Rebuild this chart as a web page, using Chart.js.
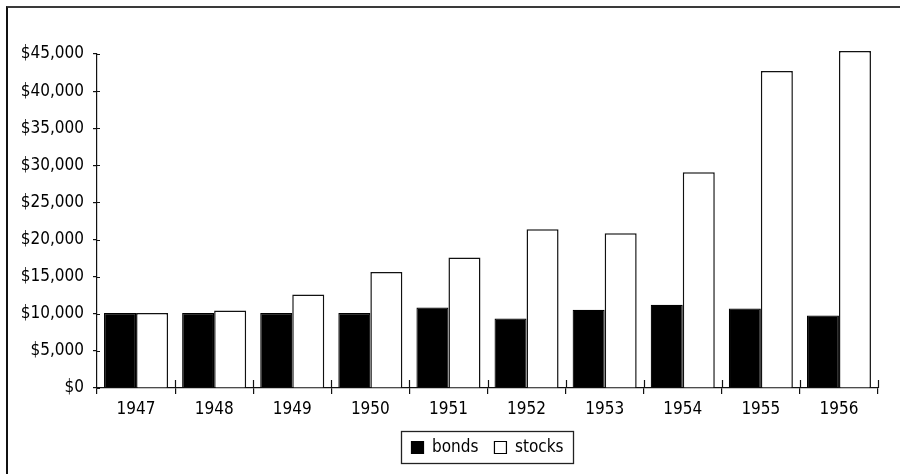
<!DOCTYPE html>
<html>
<head>
<meta charset="utf-8">
<script src="https://cdn.jsdelivr.net/npm/chart.js@4/dist/chart.umd.min.js"></script>
<style>
  html, body { margin: 0; padding: 0; background: #fff; }
  #wrap { position: relative; width: 900px; height: 474px; overflow: hidden; }
  #frame { position: absolute; left: 6px; top: 6px; width: 900px; height: 480px;
           border-left: 2px solid #111; border-top: 2px solid #3a3a3a; box-sizing: border-box; }
  canvas { position: absolute; left: 0; top: 0; }
</style>
</head>
<body>
<div id="wrap">
  <div id="frame"></div>
  <canvas id="c" width="900" height="474"></canvas>
</div>
<script>
// ---- data ----
const years = ['1947','1948','1949','1950','1951','1952','1953','1954','1955','1956'];
const bonds = [10100, 10100, 10100, 10100, 10850, 9370, 10530, 11200, 10710, 9770];
const stocks = [10100, 10450, 12600, 15640, 17570, 21380, 20840, 29080, 42700, 45400];
const yTickValues = [0, 5000, 10000, 15000, 20000, 25000, 30000, 35000, 40000, 45000];
const yTickLabels = ['$0','$5,000','$10,000','$15,000','$20,000','$25,000','$30,000','$35,000','$40,000','$45,000'];
const seriesNames = ['bonds', 'stocks'];

const FONT = "'Liberation Sans Narrow', 'Arial Narrow', 'DejaVu Sans Condensed', sans-serif";

// draws the inner half of tick marks (ticks crossing the axis) and legend border
const crossTicks = {
  id: 'crossTicks',
  afterDraw(chart) {
    const ctx = chart.ctx;
    const x = chart.scales.x, y = chart.scales.y;
    const ca = chart.chartArea;
    ctx.save();
    ctx.strokeStyle = '#111';
    ctx.lineWidth = 1.2;
    ctx.beginPath();
    y.ticks.forEach((t, i) => {
      const py = Math.round(y.getPixelForTick(i)) + 0.5;
      ctx.moveTo(ca.left, py); ctx.lineTo(ca.left + 3, py);
    });
    for (let i = 1; i <= years.length; i++) {
      const px = Math.round(x.getPixelForValue(i - 0.5)) + 0.5;
      ctx.moveTo(px, ca.bottom); ctx.lineTo(px, ca.bottom - 8);
    }
    ctx.stroke();
    // legend border
    const lg = chart.legend;
    if (lg && lg.legendHitBoxes && lg.legendHitBoxes.length) {
      const hb = lg.legendHitBoxes;
      let l = Infinity, r = -Infinity, t = Infinity, b = -Infinity;
      hb.forEach(h => { l = Math.min(l, h.left); r = Math.max(r, h.left + h.width);
                        t = Math.min(t, h.top); b = Math.max(b, h.top + h.height); });
      ctx.lineWidth = 1.3;
      ctx.strokeStyle = '#222';
      const cy = (t + b) / 2;
      ctx.strokeRect(Math.round(l - 11) + 0.5, Math.round(cy - 17) + 0.5, Math.round(r - l + 20), 32);
    }
    ctx.restore();
  }
};

new Chart(document.getElementById('c'), {
  type: 'bar',
  data: {
    labels: years,
    datasets: [
      { label: seriesNames[0], data: bonds, backgroundColor: '#000', borderColor: '#000', borderWidth: 1.2,
        categoryPercentage: 0.82, barPercentage: 1.0, clip: false },
      { label: seriesNames[1], data: stocks, backgroundColor: '#fff', borderColor: '#111', borderWidth: 1.5,
        categoryPercentage: 0.82, barPercentage: 1.0, clip: false }
    ]
  },
  options: {
    responsive: false,
    animation: false,
    devicePixelRatio: 1,
    layout: { padding: { top: 54, right: 22, left: 0, bottom: 8 } },
    plugins: {
      tooltip: { enabled: false },
      title: { display: false },
      legend: {
        position: 'bottom',
        fullSize: false,
        labels: {
          color: '#000',
          font: { family: FONT, size: 17 },
          boxWidth: 12, boxHeight: 12,
          padding: 16,
          generateLabels(chart) {
            return chart.data.datasets.map((d, i) => ({
              text: d.label, fillStyle: d.backgroundColor, strokeStyle: '#000',
              lineWidth: 1.2, hidden: false, datasetIndex: i, fontColor: '#000'
            }));
          }
        }
      }
    },
    scales: {
      x: {
        afterFit(scale) { scale.height = 35; },
        grid: { display: true, drawOnChartArea: false, drawTicks: true, tickLength: 6, color: '#111', lineWidth: 1.2, offset: true },
        border: { display: true, color: '#111', width: 1.2 },
        ticks: { color: '#000', font: { family: FONT, size: 17 }, padding: 5, maxRotation: 0 }
      },
      y: {
        min: 0, max: 45000,
        afterBuildTicks(scale) { scale.ticks = yTickValues.map(v => ({ value: v })); },
        afterFit(scale) { scale.width = 97; },
        grid: { display: true, drawOnChartArea: false, drawTicks: true, tickLength: 4, color: '#111', lineWidth: 1.2 },
        border: { display: true, color: '#111', width: 1.2 },
        ticks: {
          color: '#000', font: { family: FONT, size: 17 }, padding: 9,
          callback(value, index) { return yTickLabels[index]; }
        }
      }
    }
  },
  plugins: [crossTicks]
});
</script>
</body>
</html>
